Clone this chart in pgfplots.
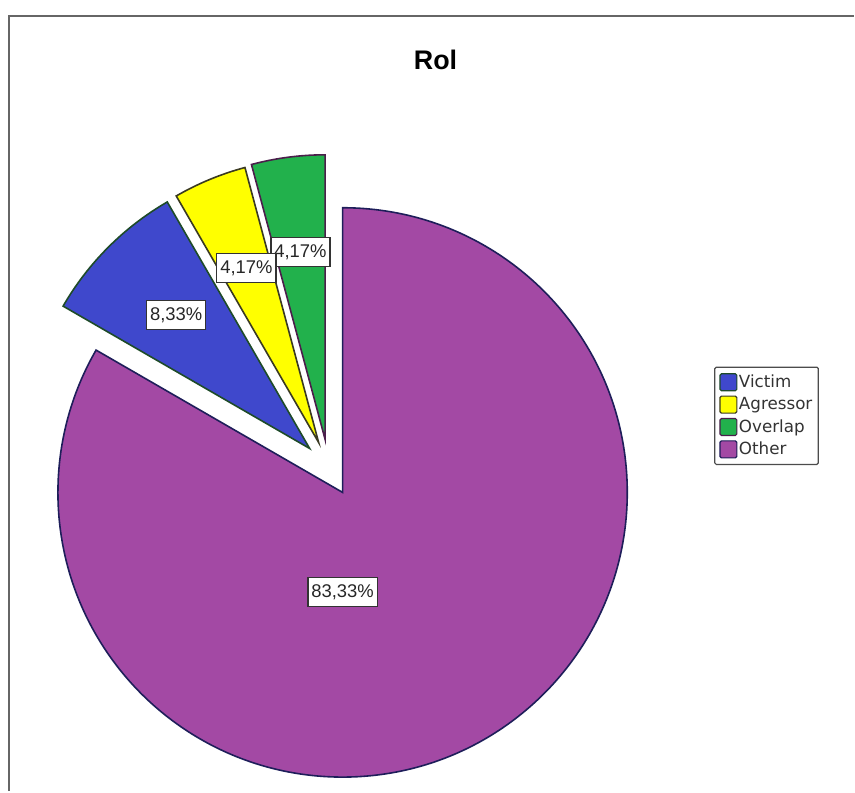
\documentclass[border=0pt]{standalone}
\usepackage{fontspec}
\setmainfont{Liberation Sans}
\newfontfamily\legendfont{DejaVu Sans}
\usepackage{pgfplots}
\usepackage{pgfplotstable}
\pgfplotsset{compat=1.18}

\definecolor{victim}{HTML}{3F48CC}
\definecolor{agressor}{HTML}{FFFF00}
\definecolor{overlap}{HTML}{22B14C}
\definecolor{other}{HTML}{A349A4}
\definecolor{victimedge}{HTML}{1E4B28}
\definecolor{agressoredge}{HTML}{3A3A22}
\definecolor{overlapedge}{HTML}{4B1E4B}
\definecolor{otheredge}{HTML}{1E1E5A}

% slices clockwise from 150 degrees
% dx, dy: how far the slice is pulled out; la, lr: label angle and distance from the tip
\pgfplotstableread{
name     value fill     edge         dx    dy  la    lr
Victim   8.33  victim   victimedge   -33   44  135   189
Agressor 4.17  agressor agressoredge -24   50  112.5 189
Overlap  4.17  overlap  overlapedge  -17.5 53  97.5  189
Other    83.33 other    otheredge    0     0   270   100
}\pietable

\begin{document}
\begin{tikzpicture}
\begin{axis}[
    width=855bp, height=792bp, scale only axis,
    xmin=0, xmax=855, ymin=0, ymax=792,
    hide axis, clip=false,
    /pgf/number format/assume math mode=true,
    legend style={
        at={(0.8363,0.5366)}, anchor=north west,
        draw=black!70, line width=1.2bp, rounded corners=1.5bp,
        inner xsep=4.5bp, inner ysep=6bp,
        row sep=4.2bp,
        font=\legendfont\fontsize{16.8}{19}\selectfont,
        text=black!80,
        nodes={inner xsep=1.5bp, inner ysep=1bp},
    },
    legend cell align=left,
    legend image code/.code={\draw[#1] (0bp,-8.5bp) rectangle (17bp,8.5bp);},
]
\addlegendimage{fill=victim, draw=victimedge, line width=1.2bp}
\addlegendentry{Victim}
\addlegendimage{fill=agressor, draw=agressoredge, line width=1.2bp}
\addlegendentry{Agressor}
\addlegendimage{fill=overlap, draw=overlapedge, line width=1.2bp}
\addlegendentry{Overlap}
\addlegendimage{fill=other, draw=otheredge, line width=1.2bp}
\addlegendentry{Other}

\pgfplotsextra{
    \path (axis cs:0,0) rectangle (axis cs:855,792);
    \draw[black!60, line width=2bp] (axis cs:9,0) |- (axis cs:855,776);
    \node[font=\bfseries\fontsize{27}{30}\selectfont] at (axis cs:436,732) {Rol};
    \pgfplotstablegetrowsof{\pietable}
    \pgfmathtruncatemacro\lastrow{\pgfplotsretval-1}
    \xdef\startang{150}
    \foreach \i in {0,...,\lastrow}{
        \pgfplotstablegetelem{\i}{value}\of\pietable \let\val\pgfplotsretval
        \pgfplotstablegetelem{\i}{fill}\of\pietable \let\fillcol\pgfplotsretval
        \pgfplotstablegetelem{\i}{edge}\of\pietable \let\edgecol\pgfplotsretval
        \pgfplotstablegetelem{\i}{dx}\of\pietable \let\dx\pgfplotsretval
        \pgfplotstablegetelem{\i}{dy}\of\pietable \let\dy\pgfplotsretval
        \pgfmathsetmacro\cx{343+\dx}
        \pgfmathsetmacro\cy{299+\dy}
        \pgfmathsetmacro\endang{\startang-3.6*\val}
        \filldraw[fill=\fillcol, draw=\edgecol, line width=1.6bp, line join=miter]
            (axis cs:\cx,\cy) -- ++(\startang:285bp)
            arc[start angle=\startang, end angle=\endang, radius=285bp] -- cycle;
        \xdef\startang{\endang}
    }
    % labels last, backwards, so Agressor's box lies over Overlap's
    \foreach \i in {\lastrow,...,0}{
        \pgfplotstablegetelem{\i}{value}\of\pietable \let\val\pgfplotsretval
        \pgfplotstablegetelem{\i}{dx}\of\pietable \let\dx\pgfplotsretval
        \pgfplotstablegetelem{\i}{dy}\of\pietable \let\dy\pgfplotsretval
        \pgfplotstablegetelem{\i}{la}\of\pietable \let\la\pgfplotsretval
        \pgfplotstablegetelem{\i}{lr}\of\pietable \let\lr\pgfplotsretval
        \pgfmathsetmacro\cx{343+\dx}
        \pgfmathsetmacro\cy{299+\dy}
        \path (axis cs:\cx,\cy) ++(\la:\lr bp) node[fill=white, draw=black!80,
            line width=1.3bp, inner xsep=3.5bp, minimum height=29bp,
            text=black!85, font=\fontsize{18.5}{20}\selectfont]
            {\pgfmathprintnumber[fixed, fixed zerofill, precision=2, use comma,
              assume math mode=true]{\val}\%};
    }
}
\end{axis}
\end{tikzpicture}
\end{document}
